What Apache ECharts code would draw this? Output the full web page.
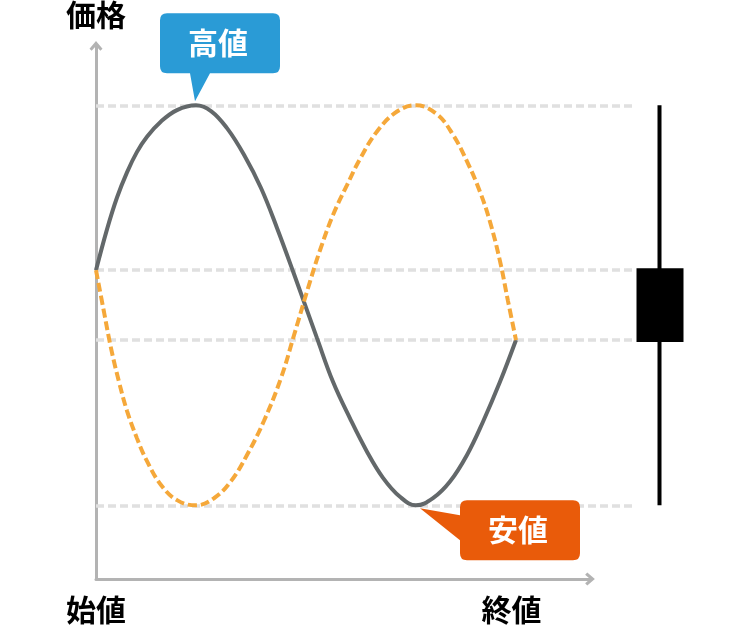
<!DOCTYPE html>
<html><head><meta charset="utf-8">
<script src="https://cdn.jsdelivr.net/npm/echarts@6/dist/echarts.min.js"></script>
<style>html,body{margin:0;padding:0;background:#fff}#c{width:750px;height:628px}</style>
</head><body><div id="c"></div>
<script>
const FONT = '"Noto Sans CJK JP", "Noto Sans CJK SC", sans-serif';

// texts
const yAxisName = '価格';
const xLabelText = ['始値', '終値'];
const xLabelPos = [0, 420];
const highLabel = '高値';
const lowLabel = '安値';
const candleCategory = ['ローソク足'];

// prices
const priceOpen = 65;
const priceClose = 50.3;
const priceHigh = 99.7;
const priceLow = 15.5;
const highX = 100;
const lowX = 320;

// solid gray path: [time, price]
const grayX = [0, 11, 21, 31, 41, 51, 65, 81, 100, 115, 131, 148, 165, 181, 198, 221, 237, 254, 271, 287, 304, 320, 337, 354, 371, 387, 404, 420];
const grayY = [65, 73.6, 80.3, 85.6, 89.9, 93.1, 96.3, 98.7, 99.7, 98.5, 94.9, 89.3, 82.3, 73.9, 64.2, 50.7, 41.5, 33.8, 26.8, 21.3, 17.3, 15.5, 17.0, 20.5, 26.1, 33.1, 41.5, 50.3];

// dashed orange path
const orangeX = [0, 8, 15, 23, 31, 41, 51, 65, 81, 100, 118, 135, 151, 168, 185, 198, 214, 224, 237, 251, 264, 281, 301, 320, 341, 357, 371, 384, 394, 404, 412, 420];
const orangeY = [65, 56.2, 48.6, 41.5, 35.4, 29.6, 24.8, 19.8, 16.6, 15.5, 17.0, 20.6, 26.1, 33.3, 42.3, 51.3, 62.6, 69.2, 76.6, 82.9, 88.4, 94.2, 98.4, 99.7, 97.8, 93.5, 87.9, 81.5, 75.2, 66.9, 58.5, 50.3];

const grayData = grayX.map((x, i) => [x, grayY[i]]);
const orangeData = orangeX.map((x, i) => [x, orangeY[i]]);

const Y_MIN = 0, Y_MAX = 112.4;
const ARROW = 'path://M6,0L12,7L10,9L6,4.4L2,9L0,7Z';
const AXIS_COLOR = '#b3b3b3';

const blueBubble = 'path://M7,0L113,0Q120,0 120,7L120,53Q120,60 113,60L50,60L35,88L30,60L7,60Q0,60 0,53L0,7Q0,0 7,0Z';
const orangeBubble = 'path://M47,0L153,0Q160,0 160,7L160,53Q160,60 153,60L47,60Q40,60 40,53L40,40L0,8L40,15L40,7Q40,0 47,0Z';

const chart = echarts.init(document.getElementById('c'), null, {renderer: 'canvas'});
const bubbleLabel = {
  show: true, position: 'inside', color: '#fff', fontSize: 30, fontWeight: 'bold', fontFamily: FONT
};
chart.setOption({
  animation: false,
  backgroundColor: '#fff',
  grid: [
    {left: 96, right: 160, top: 45, bottom: 49},
    {left: 96, right: 114, top: 45, bottom: 49},
    {left: 636, width: 48, top: 45, bottom: 49}
  ],
  xAxis: [
    {gridIndex: 0, type: 'value', min: 0, max: 494,
     axisLine: {show: true, symbol: ['none', ARROW], symbolSize: [13, 10], lineStyle: {color: AXIS_COLOR, width: 3}},
     axisTick: {show: false}, axisLabel: {show: false}, splitLine: {show: false}},
    {gridIndex: 1, type: 'value', min: 0, max: 540, interval: 420,
     axisLine: {show: false}, axisTick: {show: false}, splitLine: {show: false},
     axisLabel: {show: true, showMaxLabel: false, margin: 16, color: '#000', fontSize: 30, fontWeight: 'bold', fontFamily: FONT,
       rich: {e: {fontSize: 30, fontWeight: 'bold', fontFamily: FONT, color: '#000', padding: [0, 9, 0, 0]}},
       formatter: v => {
         const i = xLabelPos.indexOf(v);
         if (i < 0) return '';
         return i === xLabelText.length - 1 ? '{e|' + xLabelText[i] + '}' : xLabelText[i];
       }}},
    {gridIndex: 2, type: 'category', data: candleCategory, show: false}
  ],
  yAxis: [
    {gridIndex: 0, type: 'value', min: Y_MIN, max: Y_MAX,
     name: yAxisName, nameLocation: 'end', nameGap: 16,
     nameTextStyle: {color: '#000', fontSize: 30, fontWeight: 'bold', fontFamily: FONT, align: 'center', verticalAlign: 'bottom'},
     axisLine: {show: true, symbol: ['none', ARROW], symbolSize: [13, 10], lineStyle: {color: AXIS_COLOR, width: 3}},
     axisTick: {show: false}, axisLabel: {show: false}, splitLine: {show: false}},
    {gridIndex: 1, type: 'value', min: Y_MIN, max: Y_MAX, show: false, splitLine: {show: false}},
    {gridIndex: 2, type: 'value', min: Y_MIN, max: Y_MAX, show: false, splitLine: {show: false}}
  ],
  series: [
    {
      type: 'line', xAxisIndex: 1, yAxisIndex: 1, data: [], silent: true,
      markLine: {
        silent: true, z: 1, symbol: ['none', 'none'], label: {show: false},
        lineStyle: {color: '#e0e0e0', width: 3.5, type: [8, 4]},
        emphasis: {disabled: true},
        data: [{yAxis: priceHigh}, {yAxis: priceOpen}, {yAxis: priceClose}, {yAxis: priceLow}]
      }
    },
    {
      type: 'line', xAxisIndex: 1, yAxisIndex: 1, data: grayData, smooth: 0.4,
      showSymbol: false, silent: true, z: 3,
      lineStyle: {color: '#63686a', width: 4},
      markPoint: {
        silent: true,
        data: [
          {coord: [highX, priceHigh], symbol: blueBubble, symbolSize: [120, 88], symbolOffset: [24, -48],
           itemStyle: {color: '#2a9bd6'}, label: Object.assign({}, bubbleLabel, {formatter: highLabel, offset: [-2, -15]})},
          {coord: [lowX, priceLow], symbol: orangeBubble, symbolSize: [160, 60], symbolOffset: [84, 25],
           itemStyle: {color: '#e95b0a'}, label: Object.assign({}, bubbleLabel, {formatter: lowLabel, offset: [18, -1]})}
        ]
      }
    },
    {
      type: 'line', xAxisIndex: 1, yAxisIndex: 1, data: orangeData, smooth: 0.4,
      showSymbol: false, silent: true, z: 4,
      lineStyle: {color: '#f5a83a', width: 4, type: [9, 4]}
    },
    {
      type: 'candlestick', xAxisIndex: 2, yAxisIndex: 2, silent: true, clip: false,
      barWidth: 44,
      itemStyle: {color: '#000', color0: '#000', borderColor: '#000', borderColor0: '#000', borderWidth: 4},
      data: [[priceOpen, priceClose, priceLow, priceHigh]]
    }
  ]
});
</script>
</body></html>
